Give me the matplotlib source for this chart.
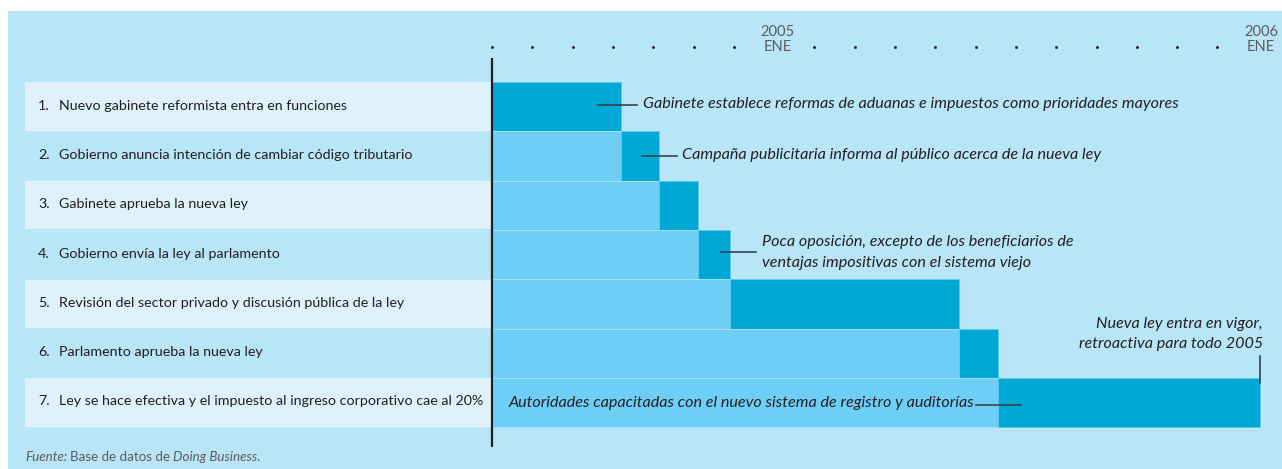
import matplotlib
matplotlib.use("Agg")
import matplotlib.pyplot as plt

FONT = ['Lato', 'Liberation Sans', 'DejaVu Sans']

# ---- data ----
steps = [
    "Nuevo gabinete reformista entra en funciones",
    "Gobierno anuncia intención de cambiar código tributario",
    "Gabinete aprueba la nueva ley",
    "Gobierno envía la ley al parlamento",
    "Revisión del sector privado y discusión pública de la ley",
    "Parlamento aprueba la nueva ley",
    "Ley se hace efectiva y el impuesto al ingreso corporativo cae al 20%",
]
# months since June 2004 (axis origin)
step_start = [0.0, 3.2, 4.15, 5.1, 5.9, 11.6, 12.55]
step_end = [3.2, 4.15, 5.1, 5.9, 11.6, 12.55, 19.05]
month_dots = list(range(0, 19))
year_ticks = [7, 19]
year_top = ["2005", "2006"]
year_bottom = ["ENE", "ENE"]

BG = '#b9e5f8'
BAND = '#dff2fc'
LIGHT = '#6dcff6'
DARK = '#00a8d6'
TXT = '#231f20'
GREY = '#5a5c5e'
LINE = '#34444c'

W, H = 1282, 469
fig = plt.figure(figsize=(W / 100, H / 100), dpi=100)
fig.patch.set_facecolor('white')
renderer = fig.canvas.get_renderer()

ax = fig.add_axes([8 / W, 0, 1 - 8 / W, 1 - 11 / H])
ax.set_facecolor(BG)
px_per_month = 40.3
x0_px = 492
ax.set_xlim((8 - x0_px) / px_per_month, (W - x0_px) / px_per_month)
row_h = 49.3
row_c0 = 82 - row_h / 2
ax.set_ylim((H - row_c0) / row_h, (11 - row_c0) / row_h)
for s in ax.spines.values():
    s.set_visible(False)
ax.set_xticks([])
ax.set_yticks([])


def py(p):
    return (p - row_c0) / row_h


def mx(p):
    return (p - x0_px) / px_per_month


def fit_size(text, target_px, style='normal', base=11.0):
    t = fig.text(0, 0, text, family=FONT, style=style, fontsize=base)
    w = t.get_window_extent(renderer).width
    t.remove()
    return base * target_px / w


LAB_FS = fit_size(steps[6], 424)
ITA_FS = fit_size("Gabinete establece reformas de aduanas e impuestos como prioridades mayores", 534, 'italic')
FOOT_FS = fit_size("Fuente: Base de datos de Doing Business.", 248) * 0.99

left_band = mx(25)
n = len(steps)
rows = list(range(1, n + 1))

for r in rows:
    if r % 2 == 1:
        ax.barh(r, -left_band, left=left_band, height=0.98, color=BAND, lw=0)

for r, s0, s1 in zip(rows, step_start, step_end):
    if s0 > 0:
        ax.barh(r, s0, left=0, height=1.0, color=LIGHT, edgecolor='#9fe0f8', lw=0.8)
    ax.barh(r, s1 - s0, left=s0, height=1.0, color=DARK, edgecolor='#5fc8ee', lw=0.6)

for r, lab in zip(rows, steps):
    ax.text(mx(38), r - 0.02, f"{r}.", family=FONT, fontsize=LAB_FS, color=TXT, va='center', ha='left')
    ax.text(mx(59), r - 0.02, lab, family=FONT, fontsize=LAB_FS, color=TXT, va='center', ha='left')

ax.plot([0, 0], [py(58), py(447)], color='#231f20', lw=1.6, solid_capstyle='butt')

dot_y = py(47)
dots = [m for m in month_dots if m not in year_ticks]
ax.scatter(dots, [dot_y] * len(dots), s=4.5, color='#231f20', zorder=5, lw=0)
for m, top, bot in zip(year_ticks, year_top, year_bottom):
    ax.text(m + 0.08, dot_y, bot, family=FONT, fontsize=10.5, color=GREY, ha='center', va='center')
    ax.text(m + 0.08, py(32), top, family=FONT, fontsize=10.5, color=GREY, ha='center', va='center')

ita = dict(family=FONT, style='italic', fontsize=ITA_FS, color=TXT, va='center')

ax.plot([mx(598), mx(637)], [py(105)] * 2, color=LINE, lw=1.2)
ax.text(mx(643), py(104), "Gabinete establece reformas de aduanas e impuestos como prioridades mayores", **ita)
ax.plot([mx(642), mx(677)], [py(156)] * 2, color=LINE, lw=1.2)
ax.text(mx(682), py(155), "Campaña publicitaria informa al público acerca de la nueva ley", **ita)
ax.plot([mx(721), mx(756)], [py(252)] * 2, color=LINE, lw=1.2)
ax.text(mx(762), py(252.5), "Poca oposición, excepto de los beneficiarios de\nventajas impositivas con el sistema viejo",
        linespacing=1.55, **ita)
ax.text(mx(1263), py(334), "Nueva ley entra en vigor,\nretroactiva para todo 2005", ha='right',
        linespacing=1.55, **{k: v for k, v in ita.items()})
ax.plot([mx(1260)] * 2, [py(356), py(383)], color=LINE, lw=1.2)
ax.text(mx(509), py(403), "Autoridades capacitadas con el nuevo sistema de registro y auditorías", **ita)
ax.plot([mx(976), mx(1021)], [py(405)] * 2, color=LINE, lw=1.2)

# footer with mixed styles
fig.canvas.draw()
parts = [("Fuente:", 'italic', 3), ("Base de datos de", 'normal', 3), ("Doing Business", 'italic', -1.5),
         (".", 'normal', 0)]
xpix = ax.transData.transform((mx(25), 0))[0]
for txt, st, gap in parts:
    xd = ax.transData.inverted().transform((xpix, 0))[0]
    t = ax.text(xd, py(457), txt, family=FONT, style=st, fontsize=FOOT_FS, color=GREY, va='center')
    xpix = t.get_window_extent(renderer).x1 + gap

fig.savefig('out.png', dpi=100, facecolor=fig.get_facecolor())
